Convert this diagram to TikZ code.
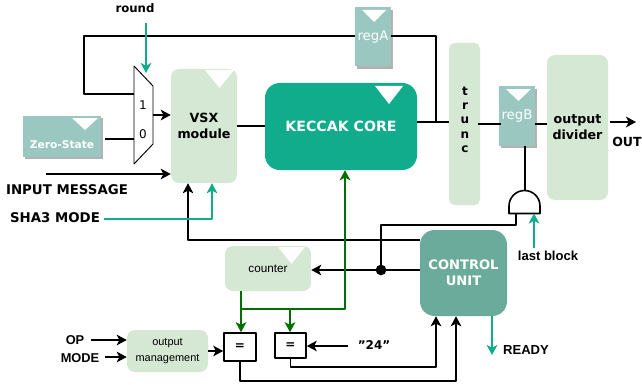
\documentclass[tikz,border=0pt]{standalone}
\usepackage{fontspec}
\setmainfont{DejaVu Sans}
\newfontfamily\arialfont{Liberation Sans}
\usetikzlibrary{arrows.meta,calc,shadows}
\definecolor{coregreen}{HTML}{10AC8C}
\definecolor{ctrlgreen}{HTML}{6AAB9C}
\definecolor{reggreen}{HTML}{9AC7BF}
\definecolor{palegreen}{HTML}{D5E8D4}
\definecolor{wiregreen}{HTML}{006E00}
\tikzset{
	box/.style 2 args={inner sep=0pt,align=center,minimum width=#1*0.75pt,minimum height=#2*0.75pt},
	pale/.style={fill=palegreen,rounded corners=6pt},
	reg/.style={fill=reggreen,text=white,drop shadow={shadow xshift=1.7pt,shadow yshift=-1.7pt,fill=black!30,opacity=1}},
	lab/.style={font=\fontsize{10}{12}\selectfont\bfseries,inner sep=0pt,align=center},
	arlab/.style={font=\arialfont\fontsize{9.8}{12}\selectfont\bfseries,inner sep=0pt,align=center},
	wire/.style={line width=1.2pt},
	teal/.style={line width=1.2pt,draw=coregreen},
	gwire/.style={line width=1.2pt,draw=wiregreen},
	eqbox/.style={draw,line width=1.2pt,fill=white,font=\bfseries\small},
	dot/.style={circle,fill=black,inner sep=0pt,minimum size=8pt}
}
\begin{document}
\begin{tikzpicture}[x=0.75pt,y=-0.75pt,line join=round,>={Stealth[length=7.5pt,width=8pt,inset=2pt]}]
	\useasboundingbox (0,0) rectangle (642,385);
	% blocks
	\node[box={66}{114},pale,lab,font=\fontsize{9.5}{12.5}\selectfont\bfseries] (vsx) at (204,126) {VSX\\module};
	\node[box={152}{87},fill=coregreen,rounded corners=11pt,text=white,lab,font=\fontsize{10.6}{12}\selectfont\bfseries] (core) at (341,126.5) {KECCAK CORE};
	\node[box={31}{162},pale,rounded corners=4pt] (trunc) at (464.5,124) {};
	\node[box={61}{145},pale,lab,font=\fontsize{9.5}{12}\selectfont\bfseries] (divider) at (577.5,127.5) {output\\divider};
	\node[box={87}{86},fill=ctrlgreen,rounded corners=11pt,text=white,lab,font=\fontsize{9.8}{12}\selectfont\bfseries] (ctrl) at (463.5,273) {CONTROL\\UNIT};
	\node[box={86}{45},pale,font=\arialfont\fontsize{8.8}{10}\selectfont] (counter) at (268,268.5) {counter};
	\node[box={81}{42},pale,font=\arialfont\fontsize{8.2}{12.5}\selectfont] (outman) at (167.5,351) {output\\management};
	\node[box={78}{41},reg] (zero) at (62,136.5) {};
	\node[box={36}{59},reg,font=\fontsize{10}{12}\selectfont] (regA) at (373,37) {regA};
	\node[box={36}{59},reg,font=\fontsize{10}{12}\selectfont] (regB) at (517,116) {regB};
	\node[lab,text=white,font=\fontsize{8}{10}\selectfont\bfseries] (zerotxt) at (62,145) {Zero-State};
	\foreach \y/\c in {91/t,106/r,120/u,135/n,149/c}
	\node[lab,font=\fontsize{9}{10}\selectfont\bfseries] (tr\c) at (465,\y) {\c};
	% clock marks
	\foreach \x/\y/\w/\h in {219.5/70/29/18,389/86/28/18,374/10/24/12,518.5/89/25/12,85/118/26/12,291.5/247/27/17}
	\fill[white] (\x-\w/2,\y) -- (\x+\w/2,\y) -- (\x,\y+\h) -- cycle;
	% mux
	\draw[line width=0.7pt,fill=white] (134,66) coordinate (muxa) -- (153,86) -- (153,144) -- (134,164) coordinate (muxb) -- cycle;
	\coordinate (muxout) at (153,115);
	\node[inner sep=0pt,font=\small] (muxone) at (143,105) {1};
	\node[inner sep=0pt,font=\small] (muxzero) at (143,134) {0};
	% and gate
	\draw[line width=1.2pt,fill=white] (509,213.5) coordinate (andl) -- (509,206) arc[start angle=180,end angle=0,radius=15.5*0.75pt] coordinate (andr) -- (540,213.5) -- cycle;
	\coordinate (andtop) at (525,190.5);
	\coordinate (andin) at (516,213.5);
	\coordinate (andlast) at (534,213.5);
	% equal boxes
	\node[box={32}{28},eqbox] (eqa) at (240,347) {=};
	\node[box={31}{25},eqbox] (eqb) at (290.5,345.5) {=};
	% labels
	\node[lab,font=\fontsize{8.8}{10}\selectfont\bfseries] (round) at (135,8) {round};
	\node[lab] (input) at (67,190) {INPUT MESSAGE};
	\node[lab] (sha) at (55,218) {SHA3 MODE};
	\node[lab,font=\fontsize{9.4}{12}\selectfont\bfseries,anchor=west] (out) at (612,142) {OUT};
	\node[arlab,font=\arialfont\fontsize{9.6}{11}\selectfont\bfseries] (opm) at (75,340) {OP};
	\node[arlab,font=\arialfont\fontsize{9.6}{11}\selectfont\bfseries] (mode) at (80,358) {MODE};
	\node[lab,font=\fontsize{9}{10}\selectfont\bfseries] (cnt) at (374,345) {\symbol{34}24\symbol{34}};
	\node[arlab] (last) at (548,256) {last block};
	\node[arlab] (ready) at (526,350) {READY};
	\coordinate (roundend) at (146,23);
	\coordinate (inend) at (46,174);
	\coordinate (opend) at (91,340);
	\coordinate (modeend) at (105,357);
	\coordinate (cntend) at (348,346);
	\coordinate (lastend) at (534,248);
	\coordinate (shaend) at (104,219);
	\coordinate (outend) at (636,122);
	\coordinate (readyend) at (492,355);
	% black wires
	\draw[wire] (134,94) -- (84,94) -- (84,36) -- (regA.west |- 0,36);
	\draw[wire] (regA.east |- 0,36) -- (436,36) -- (436,122);
	\draw[wire] ($(zero.east |- 0,139)+(4,0)$) -- (134,139);
	\draw[wire,->] (muxout) -- (vsx.west |- muxout);
	\draw[wire] (vsx.east) -- (core.west |- vsx.east);
	\draw[wire] (core.east |- 0,122) -- (trunc.west |- 0,122);
	\draw[wire] ($(trunc.east)+(-2,0)$) -- ($(regB.west)+(2,8)$);
	\draw[wire] ($(regB.east)+(0,8)$) -- (divider.west |- 0,124);
	\draw[wire,->] ($(divider.east)+(2,-5.5)$) -- (outend);
	\draw[wire] (regB.south -| andtop) -- (andtop);
	\draw[wire] (andin) -- (516,225) -- (381,225) -- (381,270);
	\draw[wire,->] (ctrl.west |- 0,270) -- (counter.east |- 0,270);
	\node[dot] (junction) at (381,270) {};
	\draw[wire,->] (ctrl.west |- 0,240) -- (188,240) -- (188,0 |- vsx.south);
	\draw[wire,->] (inend) -- (vsx.west |- inend);
	\draw[wire,->] (opend) -- (outman.west |- opend);
	\draw[wire,->] (modeend) -- (outman.west |- modeend);
	\draw[wire,->] (outman.east) -- (eqa.west |- outman.east);
	\draw[wire,->] (cntend) -- (eqb.east |- cntend);
	\draw[wire,->] (eqb.south) -- (290.5,367) -- (436,367) -- (436,0 |- ctrl.south);
	\draw[wire,->] (eqa.south) -- (240,381) -- (456,381) -- (456,0 |- ctrl.south);
	% teal wires
	\draw[teal,->] (roundend) -- (146,73);
	\draw[teal,->] (shaend) -- (212,219) -- (212,0 |- vsx.south);
	\draw[teal,->] (lastend) -- (andlast);
	\draw[teal,->] (ctrl.south -| readyend) -- (readyend);
	% green wires
	\draw[gwire,->] (241,0 |- counter.south) -- (241,0 |- eqa.north);
	\draw[gwire,->] (241,309) -- (345,309) -- (345,0 |- core.south);
	\draw[gwire,->] (290,309) -- (290,0 |- eqb.north);
\end{tikzpicture}
\end{document}
